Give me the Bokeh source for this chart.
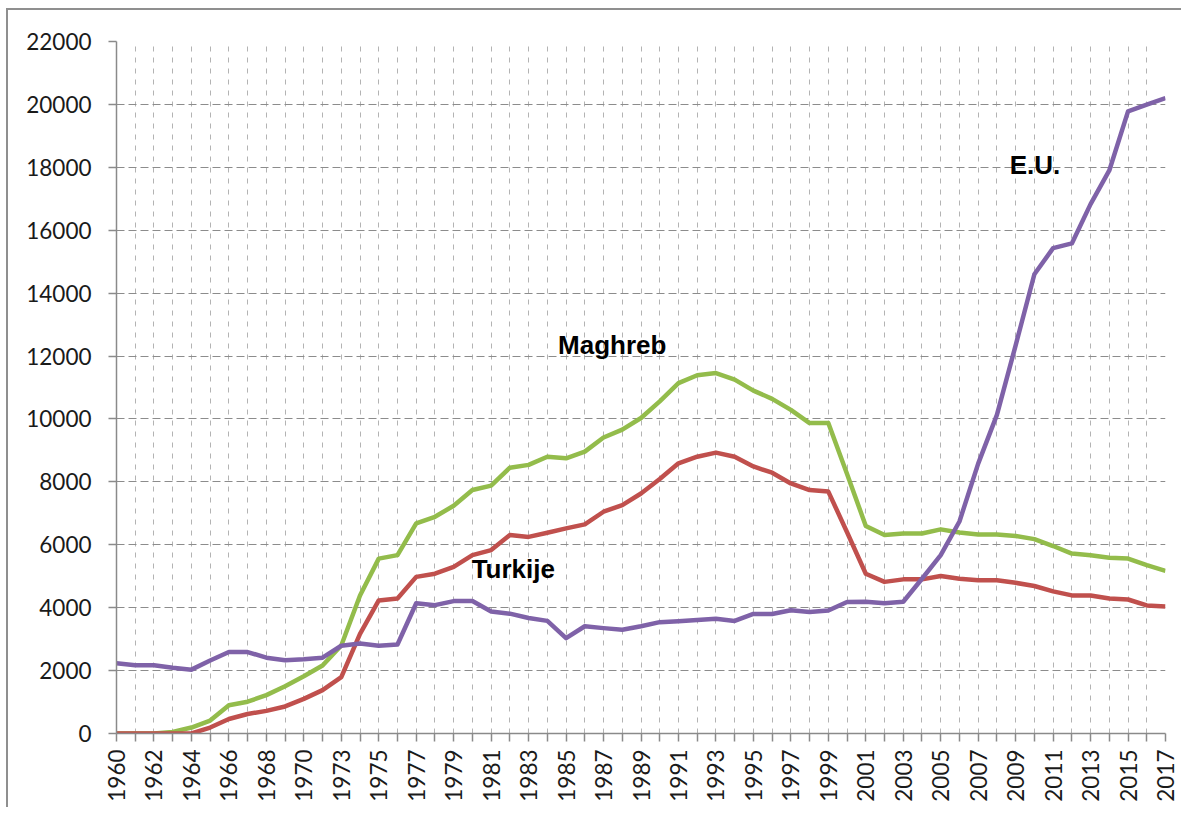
import math
from bokeh.plotting import figure
from bokeh.models import FixedTicker, Label, Range1d
from bokeh.embed import file_html
from bokeh.resources import INLINE

# ---- data ----
years = [str(y) for y in range(1960, 1972)] + [str(y) for y in range(1973, 2018)]

eu = [2230, 2170, 2170, 2090, 2030, 2320, 2590, 2590, 2410, 2330, 2360, 2410,
      2790, 2860, 2790, 2830, 4140, 4080, 4210, 4210, 3880, 3810, 3670, 3580,
      3030, 3410, 3350, 3300, 3410, 3540, 3570, 3610, 3650, 3580, 3800, 3800,
      3920, 3860, 3910, 4180, 4190, 4140, 4190, 4920, 5670, 6740, 8580, 10130,
      12340, 14600, 15430, 15580, 16830, 17900, 19780, 19990, 20200]

maghreb = [0, 0, 0, 50, 190, 410, 900, 1010, 1220, 1500, 1820, 2160,
           2800, 4390, 5560, 5670, 6680, 6890, 7240, 7740, 7880, 8450, 8540, 8800,
           8750, 8960, 9410, 9660, 10030, 10560, 11140, 11390, 11460, 11250,
           10900, 10640, 10290, 9870, 9870, 8250, 6600, 6310, 6360, 6360, 6490,
           6390, 6330, 6330, 6280, 6180, 5960, 5720, 5670, 5590, 5560, 5350, 5170]

turkije = [0, 0, 0, 0, 0, 190, 460, 620, 720, 860, 1100, 1380,
           1790, 3170, 4230, 4290, 4980, 5080, 5300, 5670, 5830, 6310, 6250, 6380,
           6520, 6650, 7050, 7260, 7630, 8090, 8590, 8800, 8930, 8800,
           8490, 8290, 7950, 7740, 7690, 6400, 5080, 4820, 4900, 4900, 5010,
           4920, 4870, 4870, 4790, 4690, 4520, 4390, 4390, 4290, 4260, 4070, 4040]

y_ticks = list(range(0, 22001, 2000))

series_labels = ["Maghreb", "Turkije", "E.U."]

# ---- figure ----
x = list(range(len(years)))

p = figure(width=1175, height=799, output_backend="svg", toolbar_location=None,
           x_range=Range1d(0, len(years) - 1), y_range=Range1d(0, 22000),
           min_border_left=108, min_border_right=18, min_border_top=31,
           min_border_bottom=76)
p.styles = {"border-top": "2px solid #8f8f8f", "border-left": "2px solid #8f8f8f",
            "margin-top": "8px", "margin-left": "6px"}
p.outline_line_color = None
p.background_fill_color = "white"
p.border_fill_color = "white"

GREEN = "#93BC4B"
RED = "#C0504D"
PURPLE = "#7F62A8"

p.line(x, maghreb, line_color=GREEN, line_width=4.5, line_join="round")
p.line(x, turkije, line_color=RED, line_width=4.5, line_join="round")
p.line(x, eu, line_color=PURPLE, line_width=4.5, line_join="round")

# axes
p.xaxis.ticker = FixedTicker(ticks=x)
p.xaxis.major_label_overrides = {i: (years[i] if i % 2 == 0 else "") for i in x}
p.xaxis.major_label_orientation = math.pi / 2
p.yaxis.ticker = FixedTicker(ticks=y_ticks)

for ax in (p.xaxis, p.yaxis):
    ax.axis_line_color = "#8a8a8a"
    ax.axis_line_width = 1.5
    ax.major_tick_line_color = "#8a8a8a"
    ax.major_tick_line_width = 1.5
    ax.major_tick_out = 8
    ax.major_tick_in = 0
    ax.minor_tick_line_color = None
    ax.major_label_text_font = "Lato"
    ax.major_label_text_font_size = "22.5px"
    ax.major_label_text_color = "#1a1a1a"

p.yaxis.major_label_standoff = 17
p.xaxis.major_label_standoff = 8

p.ygrid.grid_line_color = "#8c8c8c"
p.ygrid.grid_line_dash = "8 4"
p.ygrid.grid_line_width = 1.2
p.xgrid.grid_line_color = "#b3b3b3"
p.xgrid.grid_line_dash = "5 6"
p.xgrid.grid_line_width = 1

# in-chart labels
label_pos = [(23.57, 12345), (18.96, 5240), (47.68, 18080)]
for txt, (lx, ly) in zip(series_labels, label_pos):
    p.add_layout(Label(x=lx, y=ly, text=txt, text_font="Liberation Sans",
                       text_font_style="bold", text_font_size="26px",
                       text_color="black", text_baseline="alphabetic"))

open("out.html", "w").write(file_html(p, INLINE))
